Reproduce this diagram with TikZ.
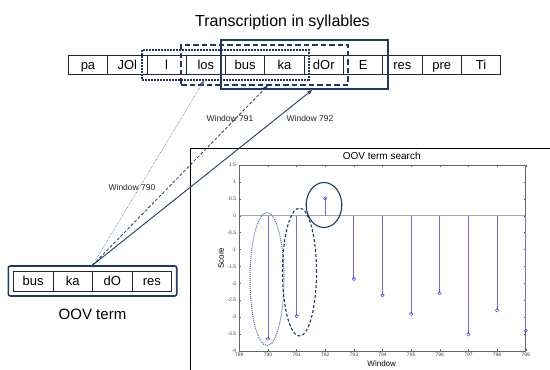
\documentclass[tikz,border=0pt]{standalone}
\usepackage{fontspec}
\setmainfont{Liberation Sans}
\usepackage{tikz}
\usetikzlibrary{positioning,arrows.meta,fit}
\definecolor{navy}{HTML}{1F3864}
\definecolor{lightnavy}{HTML}{4D6DB0}
\definecolor{stemcol}{HTML}{6A6AF5}
\newcommand{\fsz}[1]{\fontsize{#1}{#1}\selectfont}

\begin{document}
\begin{tikzpicture}[x=1pt,y=-1pt,
    syl/.style={draw=black!85,line width=0.8pt,minimum width=39.3pt,minimum height=19pt,
                inner sep=0pt,outer sep=0pt,text height=10pt,text depth=1pt,font=\fsz{13}},
    win/.style={draw=navy,line width=2pt,inner sep=0pt},
    winlbl/.style={font=\fsz{8.5},text=black!85},
    ticklbl/.style={font=\fsz{5},text=black!75,inner sep=0.5pt},
    hook/.style={-{Triangle[length=4.5pt,width=3.5pt]}}]

  \useasboundingbox (0,0) rectangle (550,370);

  % syllable row and the three search windows
  \node[font=\fsz{16}] (title) at (282.5,22.5) {Transcription in syllables};
  \node[syl] (t1) at (88,64.5) {pa};
  \foreach \s [count=\i from 2] in {JOl,l,los,bus,ka,dOr,E,res,pre,Ti}{
    \pgfmathtruncatemacro\j{\i-1}
    \node[syl,right=0pt of t\j] (t\i) {\s};
  }
  \node[win,densely dotted,fit=(t3)(t6),inner xsep=4.5pt,inner ysep=5.5pt] (w790) {};
  \node[win,dash pattern=on 5.5pt off 3pt,fit=(t4)(t7),inner xsep=5pt,inner ysep=10.5pt] (w791) {};
  \node[win,fit=(t5)(t8),inner xsep=5pt,inner ysep=15pt] (w792) {};

  % query term
  \node[syl,minimum width=39.6pt,minimum height=20pt] (o1) at (33.1,281) {bus};
  \foreach \s [count=\i from 2] in {ka,dO,res}{
    \pgfmathtruncatemacro\j{\i-1}
    \node[syl,minimum width=39.6pt,minimum height=20pt,right=0pt of o\j] (o\i) {\s};
  }
  \node[win,line width=1.6pt,rounded corners=2pt,fit=(o1)(o4),inner xsep=5pt,inner ysep=5pt] (oov) {};
  \node[font=\fsz{15},below=9pt of oov] (oovlbl) {OOV term};

  % score plot
  \draw[black,line width=0.8pt] (190,372) -- (190,148) -- (552,148);
  \node[font=\fsz{10}] (ctitle) at (381.7,156) {OOV term search};
  \node[font=\fsz{8},rotate=90] (ylab) at (221,258) {Score};
  \node[font=\fsz{8}] (xlab) at (381.7,363.5) {Window};
  \begin{scope}[shift={(239.3,215.7)},x=28.64pt,y=33.8pt]
    \draw[black!35,line width=1pt] (0,0) -- (10,0);
    \draw[black!60,line width=0.6pt] (0,-4) rectangle (10,1.5);
    \foreach \k in {0,...,10}{
      \pgfmathtruncatemacro\w{789+\k}
      \draw[black!60,line width=0.4pt] (\k,-4) -- ++(0,2pt) (\k,1.5) -- ++(0,-2pt);
      \node[ticklbl,below=1.5pt] (xt\k) at (\k,-4) {\w};
    }
    \foreach \v [count=\i] in {1.5,1,0.5,0,-0.5,-1,-1.5,-2,-2.5,-3,-3.5,-4}{
      \draw[black!60,line width=0.4pt] (0,\v) -- ++(2pt,0) (10,\v) -- ++(-2pt,0);
      \node[ticklbl,left=2.5pt] (yt\i) at (0,\v) {\v};
    }
    \foreach \s [count=\i] in {-3.64,-2.97,0.51,-1.87,-2.35,-2.91,-2.29,-3.51,-2.80,-3.40}{
      \draw[stemcol,line width=0.8pt] (\i,0) -- (\i,\s);
      \draw[blue!75,line width=0.5pt] (\i,\s) circle (1.7pt);
    }
  \end{scope}
  \draw[lightnavy,densely dotted,line width=1pt] (267,279) ellipse [x radius=17pt,y radius=66.5pt];
  \draw[navy,densely dashed,line width=1.1pt] (299.5,272) ellipse [x radius=17pt,y radius=64pt];
  \draw[navy,line width=1.1pt] (324,205) ellipse [x radius=17.8pt,y radius=22.5pt];

  % links from the term to each window
  \draw[hook,densely dotted,lightnavy,line width=0.6pt] (oov.north) -- ([xshift=-21.5pt]w790.south);
  \draw[hook,densely dashed,navy,line width=0.8pt] (oov.north) -- ([xshift=3pt]w791.south);
  \draw[hook,navy,line width=0.9pt] (oov.north) -- ([xshift=8pt]w792.south);
  \node[winlbl] (l790) at (132,187) {Window 790};
  \node[winlbl] (l791) at (230,118) {Window 791};
  \node[winlbl] (l792) at (310,118) {Window 792};
\end{tikzpicture}
\end{document}
